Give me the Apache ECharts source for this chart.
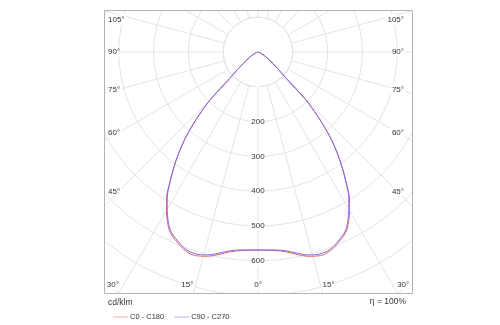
<!DOCTYPE html>
<html>
<head>
<meta charset="utf-8">
<script src="https://cdn.jsdelivr.net/npm/echarts@6/dist/echarts.min.js"></script>
<style>
  html, body { margin: 0; padding: 0; background: #fff; }
  #chart { width: 500px; height: 325px; }
</style>
</head>
<body>
<div id="chart"></div>
<script>
// Gamma angles (deg from nadir) and luminous intensity in cd/klm for both C-planes
const gammaAngles = [0, 5, 8, 11, 14, 17, 20, 23, 26, 28, 30, 32, 34, 36, 38, 40, 41, 42, 43, 44, 45, 46, 47, 48, 50, 52, 55, 60, 65, 70, 80, 90];
const c0c180 =      [569, 573, 580, 593, 605, 612, 608, 594, 576, 554, 526, 496, 454, 413, 372, 328, 302, 276, 250, 222, 195, 150, 112, 94, 72, 56, 39, 22, 11, 5, 1, 0];
const c90c270 =     [569, 571, 577, 589, 601, 607, 604, 590, 572, 550, 522, 492, 452, 412, 371, 327, 302, 276, 250, 222, 195, 150, 112, 94, 72, 56, 39, 22, 11, 5, 1, 0];

const seriesNames = ['C0 - C180', 'C90 - C270'];
const radiusTickLabels = [200, 300, 400, 500, 600];
const angleTickLabels = [0, 15, 30, 45, 60, 75, 90, 105];
const unitText = 'cd/klm';
const efficiencyText = 'η = 100%';

const FONT = '"Liberation Sans", Arial, sans-serif';
const CX = 258, CY = 52;          // pole of the diagram
const PX_PER_100 = 34.8;          // ring spacing
const FRAME = { x: 104, y: 10, w: 308, h: 283 };

// Mirror one half-curve into a closed outline: left half then right half
function outline(values) {
  const pts = [];
  for (let i = gammaAngles.length - 1; i >= 0; i--) pts.push([values[i], gammaAngles[i]]);
  for (let i = 1; i < gammaAngles.length; i++) pts.push([values[i], 360 - gammaAngles[i]]);
  return pts;
}

// Angle labels sit where each ray meets the inner label band
function angleLabels() {
  const out = [];
  const sideDx = 139.5;
  const bottomY = FRAME.y + FRAME.h;
  angleTickLabels.forEach(a => {
    const sides = a === 0 ? [0] : [-1, 1];
    sides.forEach(s => {
      const rad = a * Math.PI / 180;
      const dx = Math.sin(rad), dy = Math.cos(rad);
      const text = a + '°';
      if (s === 0) {
        out.push({ text, x: CX, y: 285, align: 'center' });
        return;
      }
      const ySide = CY + sideDx * dy / dx;
      if (ySide <= 285) {
        out.push({
          text,
          x: s < 0 ? 107 : 405,
          y: Math.max(20, ySide),
          align: s < 0 ? 'left' : 'right'
        });
      } else {
        const xExit = CX + s * (bottomY - CY) * dx / dy;
        out.push({ text, x: xExit + (s < 0 ? 1 : -1), y: 285, align: s < 0 ? 'right' : 'left' });
      }
    });
  });
  return out.map(l => ({
    type: 'text',
    z: 102,
    style: {
      text: l.text, x: l.x, y: l.y, align: l.align, verticalAlign: 'middle',
      fill: '#333', font: '8px ' + FONT,
      backgroundColor: '#fff', padding: [1, 1]
    }
  }));
}

const chart = echarts.init(document.getElementById('chart'), null, { renderer: 'canvas' });

const gridColor = '#e4e4e4';
const W = 500, H = 325;

chart.setOption({
  backgroundColor: '#fff',
  animation: false,
  polar: {
    center: [CX, CY],
    radius: [0, PX_PER_100 * 9]
  },
  angleAxis: {
    type: 'value',
    min: 0, max: 360, interval: 15,
    startAngle: 270, clockwise: true,
    z: 1,
    axisLine: { show: false },
    axisTick: { show: false },
    axisLabel: { show: false },
    splitLine: { show: true, lineStyle: { color: gridColor, width: 1 } }
  },
  radiusAxis: {
    type: 'value',
    min: 0, max: 900, interval: 100,
    z: 4,
    axisLine: { show: false },
    axisTick: { show: false },
    splitLine: { show: true, lineStyle: { color: gridColor, width: 1 } },
    axisLabel: {
      formatter: v => radiusTickLabels.includes(v) ? String(v) : '',
      margin: 0, align: 'center', verticalAlign: 'middle',
      color: '#333', fontSize: 8, fontFamily: FONT,
      backgroundColor: '#fff', padding: [1, 1]
    }
  },
  legend: {
    left: 108, top: 308,
    z: 110,
    icon: 'rect',
    itemWidth: 15, itemHeight: 1, itemGap: 10,
    data: seriesNames,
    itemStyle: { opacity: 0.55 },
    textStyle: { fontSize: 7.5, color: '#333', fontFamily: FONT, padding: [0, 0, 0, -3] }
  },
  series: [
    {
      name: seriesNames[0], type: 'line', coordinateSystem: 'polar',
      data: outline(c0c180), showSymbol: false, symbol: 'none', smooth: 0.35, clip: false,
      z: 5, lineStyle: { color: '#e46a6a', width: 1 }, itemStyle: { color: '#e46a6a' }
    },
    {
      name: seriesNames[1], type: 'line', coordinateSystem: 'polar',
      data: outline(c90c270), showSymbol: false, symbol: 'none', smooth: 0.35, clip: false,
      z: 6, lineStyle: { color: '#7b6ae6', width: 1 }, itemStyle: { color: '#7b6ae6' }
    }
  ],
  graphic: [
    // blank disc inside the first ring, where the radial rays stop
    { type: 'circle', z: 3, silent: true, shape: { cx: CX, cy: CY, r: PX_PER_100 }, style: { fill: '#fff', stroke: gridColor, lineWidth: 1 } },
    // white margins around the plotting frame
    { type: 'rect', z: 100, silent: true, shape: { x: 0, y: 0, width: W, height: FRAME.y }, style: { fill: '#fff' } },
    { type: 'rect', z: 100, silent: true, shape: { x: 0, y: 0, width: FRAME.x, height: H }, style: { fill: '#fff' } },
    { type: 'rect', z: 100, silent: true, shape: { x: FRAME.x + FRAME.w + 1, y: 0, width: W, height: H }, style: { fill: '#fff' } },
    { type: 'rect', z: 100, silent: true, shape: { x: 0, y: FRAME.y + FRAME.h + 1, width: W, height: H }, style: { fill: '#fff' } },
    { type: 'rect', z: 101, silent: true,
      shape: { x: FRAME.x + 0.5, y: FRAME.y + 0.5, width: FRAME.w, height: FRAME.h },
      style: { fill: null, stroke: '#b4b4b4', lineWidth: 1 } },
    { type: 'text', z: 102, style: { text: unitText, x: 108, y: 303, verticalAlign: 'middle', fill: '#333', font: '8.5px ' + FONT } },
    { type: 'text', z: 102, style: { text: efficiencyText, x: 406, y: 302, align: 'right', verticalAlign: 'middle', fill: '#333', font: '8.5px ' + FONT } }
  ].concat(angleLabels())
});
</script>
</body>
</html>
